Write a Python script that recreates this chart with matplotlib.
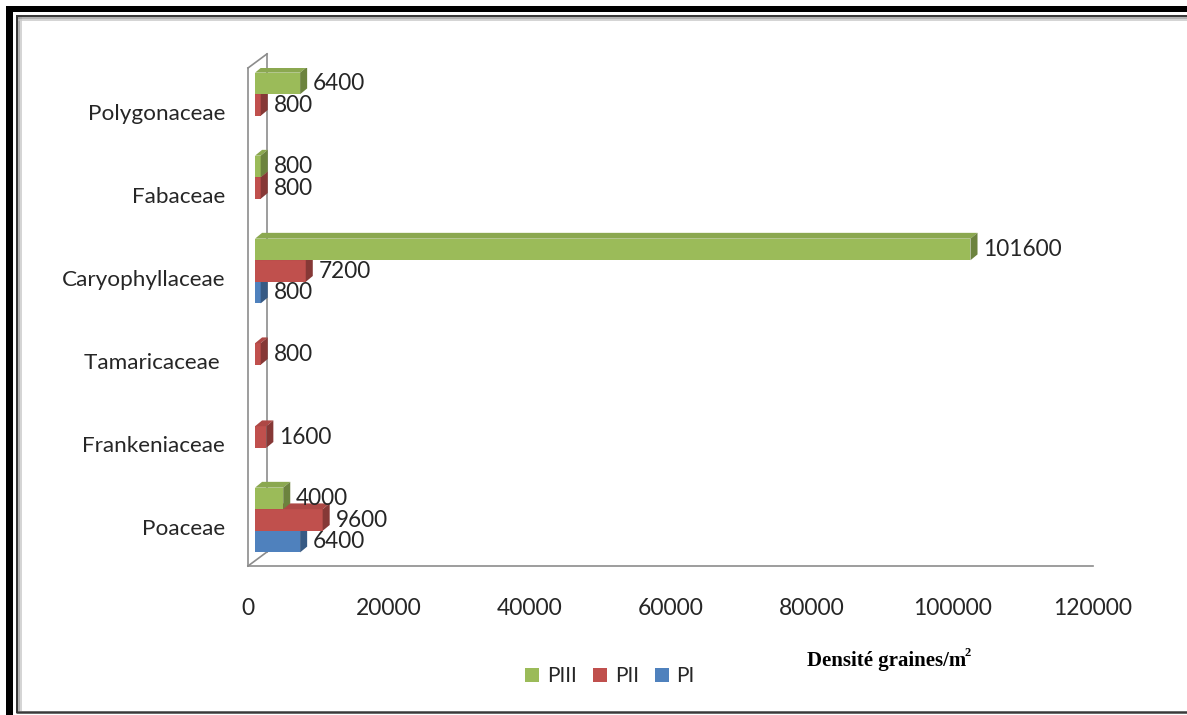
import matplotlib
matplotlib.use("Agg")
import matplotlib.pyplot as plt
from matplotlib.patches import Polygon, Patch
from matplotlib.lines import Line2D
import matplotlib.colors as mcolors
import numpy as np

# ---- data -------------------------------------------------------------
families = ["Poaceae", "Frankeniaceae", "Tamaricaceae ", "Caryophyllaceae",
            "Fabaceae", "Polygonaceae"]
series_names = ["PI", "PII", "PIII"]
pi_values = [6400, 0, 0, 800, 0, 0]
pii_values = [9600, 1600, 800, 7200, 800, 800]
piii_values = [4000, 0, 0, 101600, 800, 6400]
x_ticks = [0, 20000, 40000, 60000, 80000, 100000, 120000]
x_label = "Densité graines/m"

colors = {"PI": "#4F81BD", "PII": "#C0504D", "PIII": "#9BBB59"}
text_color = "#262626"

W, H = 1187, 715
fig = plt.figure(figsize=(W / 100, H / 100), dpi=100)
fig.patch.set_facecolor("white")


def fx(px):
    return px / W


def fy(py):
    return 1 - py / H


# axes covering the front plane of the 3-D box
ax = fig.add_axes([fx(248), fy(566), fx(1093) - fx(248), fy(68) - fy(566)])
ymin, ymax = -0.47, 5.53
ax.set_xlim(0, 120000)
ax.set_ylim(ymin, ymax)
ax.set_facecolor("none")
for s in ax.spines.values():
    s.set_visible(False)

# projection offsets (data units)
BX, BY = 1000, 0.084      # shift of the bar front faces behind the front plane
DX, DY = 1000, 0.07       # depth of each bar
WX, WY = 2700, 0.17       # depth of wall / floor
bar_h = 0.26

# wall and floor outlines
edge = dict(color="#8C8C8C", lw=1.2, clip_on=False, zorder=1)
ax.plot([0, 0], [ymin, ymax], **edge)
ax.plot([0, WX], [ymax, ymax + WY], **edge)
ax.plot([WX, WX], [ymax + WY, ymin + WY], **edge)
ax.plot([0, 120000], [ymin, ymin], **edge)
ax.plot([0, WX], [ymin, ymin + WY], **edge)


def shade(c, f):
    r, g, b = mcolors.to_rgb(c)
    return (r * f, g * f, b * f)


series = [("PI", pi_values, -1), ("PII", pii_values, 0), ("PIII", piii_values, 1)]
pos = np.arange(len(families))

# bars drawn bottom to top so that upper bars hide the tops of lower ones
z = 2
for name, vals, k in series:
    col = colors[name]
    for i, v in enumerate(vals):
        if v <= 0:
            continue
        yc = pos[i] + k * bar_h + BY
        yb, yt = yc - bar_h / 2, yc + bar_h / 2
        ax.barh(yc, v, left=BX, height=bar_h, color=col, edgecolor="none",
                zorder=z)
        top = Polygon([(BX, yt), (BX + v, yt), (BX + v + DX, yt + DY),
                       (BX + DX, yt + DY)], closed=True,
                      facecolor=shade(col, 0.9), edgecolor="none", zorder=z)
        side = Polygon([(BX + v, yb), (BX + v, yt), (BX + v + DX, yt + DY),
                        (BX + v + DX, yb + DY)], closed=True,
                       facecolor=shade(col, 0.7), edgecolor="none", zorder=z)
        ax.add_patch(top)
        ax.add_patch(side)
        ax.annotate(f"{v}", xy=(BX + v, yc), xytext=(9.4, 0),
                    textcoords="offset points", va="center", ha="left",
                    fontsize=16.3, family="Lato", color=text_color,
                    zorder=10)
        z += 1

# axes ticks
ax.set_yticks(pos)
ax.set_yticklabels(families, fontsize=16.2, family="Lato", color=text_color)
ax.set_xticks(x_ticks)
ax.set_xticklabels([str(t) for t in x_ticks], fontsize=16.5, family="Lato",
                   color=text_color)
ax.tick_params(axis="y", length=0, pad=16.5)
ax.tick_params(axis="x", length=0, pad=23)

# legend
handles = [Patch(facecolor=colors[n], edgecolor="none") for n in ["PIII", "PII", "PI"]]
fig.legend(handles, ["PIII", "PII", "PI"], loc="center",
           bbox_to_anchor=(fx(610), fy(676)), ncol=3, frameon=False,
           handlelength=0.67, handleheight=0.67, handletextpad=0.38,
           columnspacing=0.77, prop={"family": "Lato", "size": 15},
           labelcolor=text_color)

# axis title with superscript
t = fig.text(fx(807), fy(661), x_label, ha="left", va="center",
             family="Liberation Serif", fontweight="bold", fontsize=15,
             color="black")
ax.annotate("2", xy=(1, 1), xycoords=t, xytext=(-1, 3),
            textcoords="offset points", ha="left", va="top",
            family="Liberation Serif", fontweight="bold", fontsize=9,
            color="black", annotation_clip=False)

# page frame
frame = [
    ((9.5, 6), (9.5, H), "black", 7),
    ((6, 9), (W, 9), "black", 6),
    ((16.5, 15), (16.5, 713), "#3A3A3A", 2),
    ((16, 15.5), (W, 15.5), "#3A3A3A", 2),
    ((16, 712), (W, 712), "#3A3A3A", 2.5),
    ((18.5, 17), (18.5, 711), "#9A9A9A", 1.5),
    ((20.5, 17), (20.5, 711), "#C8C8C8", 1.5),
    ((18, 17.5), (W, 17.5), "#9A9A9A", 1.5),
    ((18, 19.5), (W, 19.5), "#C8C8C8", 1.5),
]
for (x0, y0), (x1, y1), c, w in frame:
    fig.add_artist(Line2D([fx(x0), fx(x1)], [fy(y0), fy(y1)],
                          transform=fig.transFigure, color=c,
                          lw=w * 72 / 100, solid_capstyle="butt"))

fig.savefig("out.png", dpi=100)
